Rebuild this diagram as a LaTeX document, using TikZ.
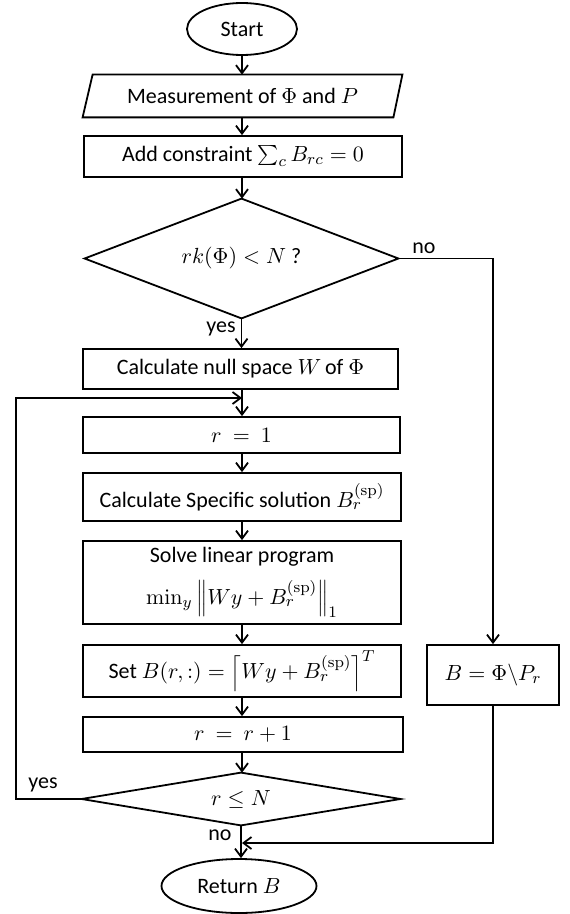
\documentclass[tikz,border=0pt]{standalone}
\usepackage[no-math]{fontspec}
\setmainfont{Carlito}
\usetikzlibrary{shapes.geometric,arrows.meta,calc}
\begin{document}
\begin{tikzpicture}[x=0.5pt,y=-0.5pt,
  every node/.style={font=\fontsize{11pt}{13pt}\selectfont},
  box/.style={draw, line width=0.9pt, rectangle, inner sep=0pt, align=center},
  term/.style={draw, line width=0.9pt, ellipse, inner sep=0pt},
  arr/.style={line width=0.9pt, -{Straight Barb[length=4pt,width=6pt]}},
  ln/.style={line width=0.9pt},
  lbl/.style={inner sep=0pt}]
\useasboundingbox (0,0) rectangle (569,914);

% nodes
\node[term, minimum width=55pt, minimum height=26pt] (start) at (242,29) {Start};
\node[lbl, minimum width=159.5pt, minimum height=21pt] (meas) at (242.5,96) {Measurement of $\Phi$ and $P$};
\draw[ln] ($(meas.north west)+(10,0)$) -- (meas.north east) -- ($(meas.south east)+(-9,0)$) -- (meas.south west) -- cycle;
\node[box, minimum width=159pt, minimum height=20.5pt] (add) at (243,156.5) {Add constraint $\textstyle\sum_c B_{rc} = 0$};
\node[lbl, minimum width=156.5pt, minimum height=59.5pt] (dec1) at (241.5,258.5) {$rk(\Phi) < N$ ?};
\draw[ln] (dec1.north) -- (dec1.east) -- (dec1.south) -- (dec1.west) -- cycle;
\node[box, minimum width=157.5pt, minimum height=20pt] (null) at (240.5,369) {Calculate null space $W$\,of $\Phi$};
\node[box, minimum width=158.5pt, minimum height=18pt] (r1) at (241.5,435) {$r\ =\ 1$};
\node[box, minimum width=159pt, minimum height=24pt] (spec) at (242,497) {Calculate Specific solution $B_r^{(\mathrm{sp})}$};
\node[box, minimum width=159pt, minimum height=41.5pt] (solve) at (242,582.5) {Solve linear program\\[6pt] $\min_y \left\| Wy + B_r^{(\mathrm{sp})} \right\|_1$};
\node[box, minimum width=159pt, minimum height=26pt] (set) at (242,671) {Set $B(r,:) = \left\lceil Wy + B_r^{(\mathrm{sp})} \right\rceil^T$};
\node[box, minimum width=160pt, minimum height=17.5pt] (rinc) at (243,734.5) {$r\ =\ r + 1$};
\node[lbl, minimum width=159pt, minimum height=26pt] (dec2) at (241,799) {$r \leq N$};
\draw[ln] (dec2.north) -- (dec2.east) -- (dec2.south) -- (dec2.west) -- cycle;
\node[term, minimum width=77.5pt, minimum height=27pt] (ret) at (239,886) {Return $B$};
\node[box, minimum width=66pt, minimum height=30pt] (bsol) at (493,675) {$B = \Phi\backslash P_r$};

% helper coordinates
\coordinate (loopL) at (16,798);
\coordinate (jn1) at (242,398);
\coordinate (jn2) at (242,843);

% connectors
\draw[arr] (start.south) -- (start.south |- meas.north);
\draw[arr] (start.south |- meas.south) -- (start.south |- add.north);
\draw[arr] (start.south |- add.south) -- (start.south |- dec1.north);
\draw[arr] (dec1.south) -- (dec1.south |- null.north);
\draw[arr] (jn1 |- null.south) -- (jn1 |- r1.north);
\draw[arr] (jn1 |- r1.south) -- (jn1 |- spec.north);
\draw[arr] (jn1 |- spec.south) -- (jn1 |- solve.north);
\draw[arr] (jn1 |- solve.south) -- (jn1 |- set.north);
\draw[arr] (jn1 |- set.south) -- (jn1 |- rinc.north);
\draw[arr] (jn1 |- rinc.south) -- (jn1 |- dec2.north);
\draw[arr] (dec2.south) -- (dec2.south |- ret.north);
\draw[arr] (dec2.west) -- (dec2.west -| loopL) |- (jn1);
\draw[arr] (dec1.east) -| (bsol.north);
\draw[arr] (bsol.south) |- (jn2);

% labels
\node[lbl] (lno1) at (424,248) {no};
\node[lbl] (lyes1) at (221,329) {yes};
\node[lbl] (lyes2) at (43,785) {yes};
\node[lbl] (lno2) at (220,835) {no};
\end{tikzpicture}
\end{document}
